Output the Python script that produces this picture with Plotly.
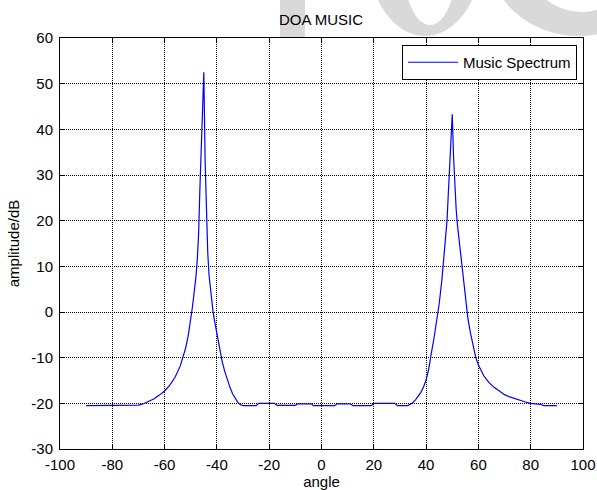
import plotly.graph_objects as go

# ---- data ----
angle_deg = [-90, -71, -70, -68, -66, -64, -62, -60, -58, -56, -54, -53, -52, -51, -50,
             -49.5, -49, -48.5, -48, -47.5, -47, -46.5, -46, -45.5, -45, -44.5, -44, -43.5,
             -43, -42.5, -42, -41.5, -41, -40, -39, -38, -37, -36, -35, -34, -33, -32, -31,
             -30, -25, -24, -18, -17, -10, -9, -4, -3, 5, 6, 11, 12, 19, 20, 28, 29, 33,
             34, 35, 36, 37, 38, 39, 40, 41, 41.5, 42, 43, 44, 45, 46, 46.5, 47, 47.5, 48,
             48.5, 49, 49.5, 50, 50.5, 51, 51.5, 52, 53, 54, 55, 56, 57, 58, 59, 60, 61, 62,
             63, 64, 66, 68, 70, 72, 74, 76, 78, 80, 82, 84, 85, 90]
spectrum_db = [-20.5, -20.5, -20.4, -20.1, -19.6, -19.0, -18.2, -17.3, -16.0, -14.3, -11.8,
               -10.0, -8.0, -5.3, -1.8, 0.5, 2.8, 5.2, 7.8, 11.5, 17.0, 27.0, 36.0, 43.5,
               52.5, 33.0, 22.0, 13.0, 8.0, 4.8, 2.2, 0.2, -1.6, -4.8, -7.8, -10.8, -13.0,
               -14.9, -16.5, -17.9, -19.0, -19.8, -20.3, -20.5, -20.5, -20.0, -20.0, -20.45,
               -20.45, -20.1, -20.1, -20.5, -20.5, -20.1, -20.1, -20.5, -20.5, -20.0, -20.0,
               -20.5, -20.5, -20.2, -19.8, -19.2, -18.5, -17.6, -16.4, -14.9, -12.5, -10.5,
               -9.0, -5.8, -2.3, 1.8, 6.8, 9.8, 13.0, 16.2, 20.0, 26.0, 33.0, 40.0, 43.3,
               34.0, 27.0, 22.5, 19.0, 13.8, 8.5, 3.2, -1.5, -4.7, -7.6, -10.0, -11.6, -12.9,
               -13.9, -14.7, -15.4, -16.5, -17.4, -18.1, -18.6, -19.0, -19.4, -19.7, -20.0,
               -20.15, -20.25, -20.5, -20.5]

x_ticks = [-100, -80, -60, -40, -20, 0, 20, 40, 60, 80, 100]
x_tick_labels = ["-100", "-80", "-60", "-40", "-20", "0", "20", "40", "60", "80", "100"]
y_ticks = [-30, -20, -10, 0, 10, 20, 30, 40, 50, 60]
y_tick_labels = ["-30", "-20", "-10", "0", "10", "20", "30", "40", "50", "60"]

title_text = "DOA MUSIC"
x_label = "angle"
y_label = "amplitude/dB"
series_name = "Music Spectrum"

FONT = "Liberation Sans, Arial, Helvetica, sans-serif"
FS = 15

# plot area in pixels (for placing background watermark shapes)
W, H = 597, 490
L, R, T, B = 60, 14, 38, 41
PW, PH = W - L - R, H - T - B


def px(x):
    return (x - L) / PW


def py(y):
    return (H - B - y) / PH


fig = go.Figure()
fig.add_trace(go.Scatter(
    x=angle_deg, y=spectrum_db, mode="lines", name=series_name,
    line=dict(color="#0000ff", width=1.2),
    showlegend=True,
))

wm = "#d9d9d9"
shapes = [
    # faint watermark letters behind the figure
    dict(type="rect", xref="paper", yref="paper", x0=px(280), x1=px(305),
         y0=py(200), y1=py(-60), fillcolor=wm, line_width=0, layer="below"),
    dict(type="circle", xref="paper", yref="paper", x0=px(368), x1=px(482),
         y0=py(36), y1=py(-130), fillcolor=wm, line_width=0, layer="below"),
    dict(type="circle", xref="paper", yref="paper", x0=px(403), x1=px(457),
         y0=py(25), y1=py(-100), fillcolor="white", line_width=0, layer="below"),
    dict(type="circle", xref="paper", yref="paper", x0=px(488), x1=px(668),
         y0=py(36), y1=py(-130), fillcolor=wm, line_width=0, layer="below"),
    dict(type="circle", xref="paper", yref="paper", x0=px(523), x1=px(640),
         y0=py(12), y1=py(-110), fillcolor="white", line_width=0, layer="below"),
    # opaque white plot area
    dict(type="rect", xref="paper", yref="paper", x0=0, x1=1, y0=0, y1=1,
         fillcolor="white", line_width=0, layer="below"),
]

axis_common = dict(
    showline=True, linecolor="black", linewidth=1, mirror="ticks",
    ticks="inside", ticklen=5, tickcolor="black", tickwidth=1,
    showgrid=True, gridcolor="black", gridwidth=1, griddash="1px,1px",
    zeroline=False, tickfont=dict(family=FONT, size=FS, color="black"),
)

fig.update_layout(
    width=W, height=H,
    margin=dict(l=L, r=R, t=T, b=B, autoexpand=False),
    paper_bgcolor="white", plot_bgcolor="white",
    font=dict(family=FONT, size=FS, color="black"),
    title=dict(text=title_text, x=px(321), xanchor="center", xref="paper",
               y=1 - 20 / H, yanchor="middle", yref="container",
               font=dict(family=FONT, size=FS, color="black")),
    xaxis=dict(range=[-100, 100], tickvals=x_ticks, ticktext=x_tick_labels,
               ticklabelstandoff=2,
               title=dict(text=x_label, standoff=0,
                          font=dict(family=FONT, size=FS, color="black")),
               **axis_common),
    yaxis=dict(range=[-30, 60], tickvals=y_ticks, ticktext=y_tick_labels,
               ticklabelstandoff=3,
               title=dict(text=y_label, standoff=8,
                          font=dict(family=FONT, size=FS, color="black")),
               **axis_common),
    legend=dict(x=px(577), xanchor="right", y=py(45), yanchor="top",
                bgcolor="white", bordercolor="black", borderwidth=1,
                itemwidth=50, font=dict(family=FONT, size=FS, color="black")),
    shapes=shapes,
)

fig.write_html("out.html",
               config={"displayModeBar": False},
               post_script="document.body.style.margin='0px';"
                           "document.body.style.overflow='hidden';")
